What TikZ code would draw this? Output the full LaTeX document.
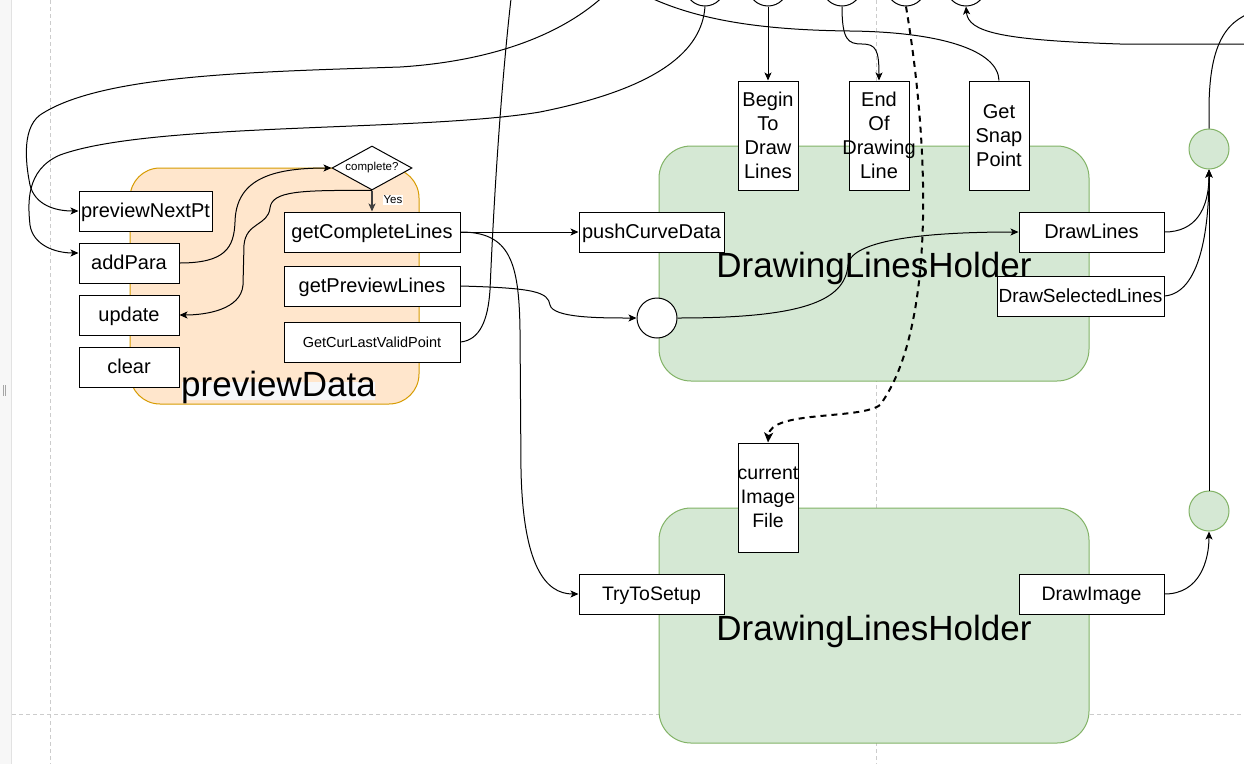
\documentclass[tikz,border=0pt]{standalone}
\usepackage{fontspec}
\setmainfont{Liberation Sans}
\usetikzlibrary{shapes.geometric,arrows.meta}
\definecolor{gfill}{HTML}{D5E8D4}
\definecolor{gline}{HTML}{82B366}
\definecolor{ofill}{HTML}{FFE6CC}
\definecolor{oline}{HTML}{D79B00}
\definecolor{pageline}{HTML}{CCCCCC}
\definecolor{stripfill}{HTML}{F7F7F7}
\definecolor{stripline}{HTML}{E2E2E2}
\definecolor{labbg}{HTML}{F6F7F9}
\tikzset{
 box/.style={draw=black, fill=white, line width=1pt, inner sep=0pt, align=center, font=\fontsize{20}{24}\selectfont},
 sline/.style={text height=18pt, text depth=4.2pt},
 holder/.style={draw=gline, fill=gfill, line width=1pt, rounded corners=32pt, minimum width=430pt, minimum height=235pt, inner sep=0pt},
 bigtext/.style={font=\fontsize{35}{40}\selectfont, inner sep=0pt, anchor=base},
 conn/.style={line width=1pt, draw=black},
 arr/.style={conn, -{Stealth[length=8pt,width=7pt,inset=2pt]}},
 pageln/.style={draw=pageline, line width=1pt, dash pattern=on 4pt off 3pt},
 topcirc/.style={circle, draw=black, fill=white, line width=1pt, minimum size=40pt, inner sep=0pt},
 gcirc/.style={circle, draw=gline, fill=gfill, line width=1pt, minimum size=40pt, inner sep=0pt},
}
\begin{document}
\begin{tikzpicture}[x=1pt,y=-1pt]
\useasboundingbox (0,0) rectangle (1244,764);
\fill[white] (0,0) rectangle (1244,764);
% side strip
\fill[stripfill] (0,0) rectangle (11,764);
\draw[stripline] (11.5,0) -- (11.5,764);
\draw[gray!70, line width=1pt] (3,385) -- (3,396) (5.5,385) -- (5.5,396);
% page break lines
\draw[pageln] (50,0) -- (50,764);
\draw[pageln] (876,0) -- (876,764);
\draw[pageln] (12,714) -- (1244,714);

% containers
\node[draw=oline, fill=ofill, line width=1pt, rounded corners=30pt, minimum width=289pt, minimum height=236pt, inner sep=0pt] (pd) at (274.5,286) {};
\node[holder] (h1) at (874,263.5) {};
\node[holder] (h2) at (874,625.5) {};
\fill[labbg] (182,382) rectangle (375,400);
\node[bigtext] (pdlab) at (278.5,396) {previewData};
\node[bigtext] (h1lab) at (874,277) {DrawingLinesHolder};
\node[bigtext] (h2lab) at (874,640) {DrawingLinesHolder};

% top circles (cut off)
\node[topcirc] (c1) at (705,-14) {};
\node[topcirc] (c2) at (768,-14) {};
\node[topcirc] (c3) at (842,-14) {};
\node[topcirc] (c4) at (906,-14) {};
\node[topcirc] (c5) at (966,-14) {};

% boxes
\node[box, sline, minimum width=133pt, minimum height=40pt] (pnp) at (145.5,211) {previewNextPt};
\node[box, sline, minimum width=100pt, minimum height=40pt] (addp) at (129,263) {addPara};
\node[box, sline, minimum width=100pt, minimum height=40pt] (upd) at (129,315) {update};
\node[box, sline, minimum width=100pt, minimum height=40pt] (clr) at (129,367) {clear};
\node[box, sline, minimum width=176pt, minimum height=40pt] (gcl) at (372,232) {getCompleteLines};
\node[box, sline, minimum width=176pt, minimum height=40pt] (gpl) at (372,286) {getPreviewLines};
\node[box, minimum width=176pt, minimum height=40pt, font=\fontsize{14.5}{17}\selectfont, text height=13.1pt, text depth=3.1pt] (gclv) at (372,342) {GetCurLastValidPoint};
\node[diamond, draw=black, fill=white, line width=1pt, minimum width=80pt, minimum height=44pt, aspect=1.8, inner sep=0pt, font=\fontsize{11.5}{13}\selectfont] (dia) at (372,168) {complete?};
\node[box, sline, minimum width=145pt, minimum height=40pt] (pcd) at (651.5,232) {pushCurveData};
\node[box, sline, minimum width=145pt, minimum height=40pt] (dl) at (1091.5,232) {DrawLines};
\node[box, sline, minimum width=167pt, minimum height=40pt, font=\fontsize{19}{23}\selectfont] (dsl) at (1080.5,296) {\makebox[0pt]{DrawSelectedLines}};
\node[box, sline, minimum width=145pt, minimum height=40pt, font=\fontsize{19.5}{23}\selectfont] (tts) at (651.5,594) {TryToSetup};
\node[box, sline, minimum width=145pt, minimum height=40pt, font=\fontsize{19.5}{23}\selectfont] (di) at (1091.5,594) {DrawImage};
\node[box, minimum width=60pt, minimum height=109pt] (btd) at (768,135.5) {Begin\\To\\Draw\\Lines};
\node[box, minimum width=60pt, minimum height=109pt] (eod) at (879,135.5) {End\\Of\\\makebox[0pt]{Drawing}\\Line};
\node[box, minimum width=60pt, minimum height=109pt] (gsp) at (999,135.5) {Get\\Snap\\Point};
\node[box, minimum width=60pt, minimum height=109pt, font=\fontsize{19.5}{24}\selectfont] (cif) at (768,497.5) {\makebox[0pt]{current}\\Image\\File};
\node[circle, draw=black, fill=white, line width=1pt, minimum size=40pt, inner sep=0pt] (wc) at (657,318) {};
\node[gcirc] (gc1) at (1209,149) {};
\node[gcirc] (gc2) at (1209,511) {};

% off-picture ends
\coordinate (offA) at (610,-10);
\coordinate (offB) at (512,-10);
\coordinate (offC) at (635,-10);
\coordinate (offD) at (1260,44);
\coordinate (offE) at (1260,10);

% connectors
\draw[arr] (offA) .. controls (560,40) and (480,62) .. (400,67) .. controls (250,72) and (100,75) .. (40,115) .. controls (20,130) and (27,170) .. (30,185) .. controls (35,205) and (55,211) .. (pnp.west);
\draw[arr] (c1.south) .. controls (702,50) and (660,88) .. (540,112) .. controls (420,132) and (150,122) .. (60,155) .. controls (25,170) and (28,205) .. (30,225) .. controls (33,245) and (55,253) .. ([yshift=10pt]addp.west);
\draw[conn] (gclv.east) .. controls (480,340) and (488,320) .. (490,290) .. controls (496,150) and (505,50) .. (offB);
\draw[conn] (gsp.north) .. controls (998,50) and (940,32) .. (850,31) .. controls (760,30) and (690,20) .. (offC);
\draw[arr] (c2) -- (btd);
\draw[arr] (c3.south) .. controls (842,40) and (848,44) .. (862,44) .. controls (876,44) and (879,50) .. (eod.north);
\draw[line width=2pt, draw=black, dash pattern=on 6pt off 5pt, -{Stealth[length=10pt,width=9pt,inset=2.5pt]}] (c4.south) .. controls (930,150) and (935,330) .. (880,405) .. controls (860,420) and (770,410) .. (cif.north);
\draw[arr] (offD) -- (1120,44) .. controls (1000,40) and (968,32) .. (c5.south);
\draw[conn] (gc1.north) -- (1209,110) .. controls (1209,40) and (1228,18) .. (offE);
\draw[arr] (gc2) -- (gc1);
\draw[arr] (dl.east) .. controls (1195,232) and (1209,210) .. (gc1.south);
\draw[arr] (dsl.east) .. controls (1200,293) and (1209,230) .. (gc1.south);
\draw[arr] (di.east) .. controls (1200,594) and (1209,560) .. (gc2.south);
\draw[arr] (gcl.east) -- (pcd.west);
\draw[arr] (gcl.east) .. controls (510,232) and (519,262) .. (520,330) -- (521,470) .. controls (523,565) and (545,594) .. (tts.west);
\draw[arr] (gpl.east) .. controls (535,288) and (548,292) .. (550,305) .. controls (553,318) and (600,318) .. (wc.west);
\draw[arr] (wc.east) .. controls (800,318) and (845,302) .. (848,265) .. controls (851,236) and (950,232) .. (dl.west);
\draw[arr] (addp.east) .. controls (225,263) and (234,248) .. (235,222) .. controls (236,180) and (270,168) .. (dia.west);
\draw[arr] (dia.south) .. controls (300,190) and (272,191) .. (270,208) .. controls (268,226) and (246,222) .. (244,245) -- (243,285) .. controls (241,310) and (205,315) .. (upd.east);
\draw[line width=1.5pt, draw=black!75, -{Stealth[length=8pt,width=7pt,inset=2pt]}] (dia.south) -- (gcl.north);
\node[fill=white, inner sep=1pt, font=\fontsize{11.5}{13}\selectfont] (yes) at (393,200) {Yes};
\end{tikzpicture}
\end{document}
